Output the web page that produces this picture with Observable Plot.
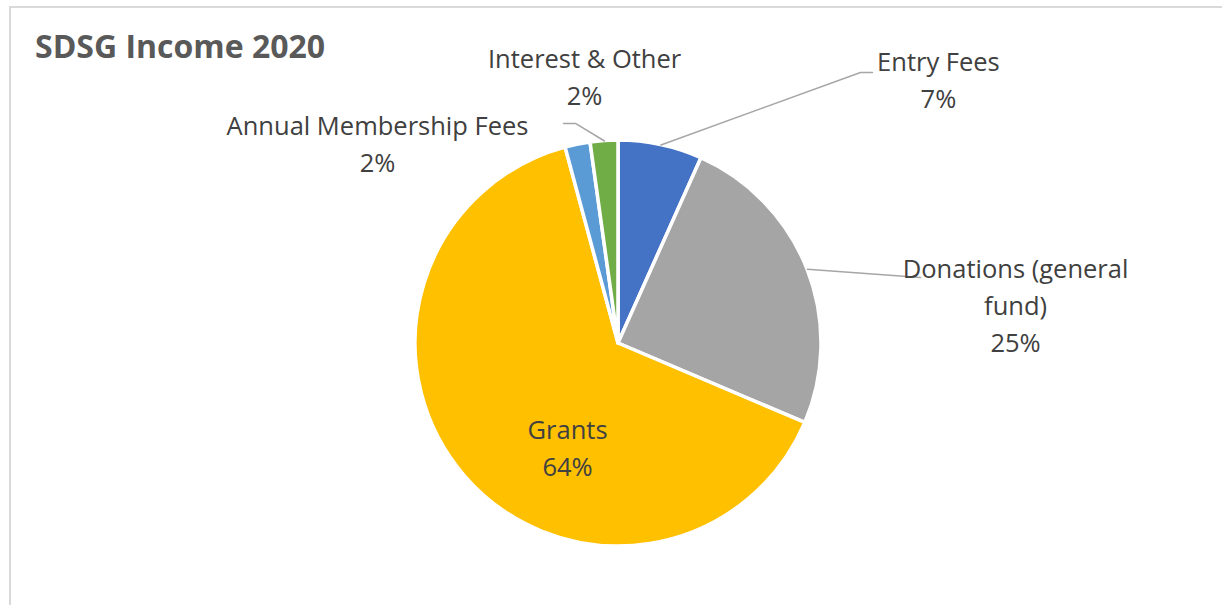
<!DOCTYPE html>
<html>
<head>
<meta charset="utf-8">
<script src="https://cdn.jsdelivr.net/npm/d3@7"></script>
<script src="https://cdn.jsdelivr.net/npm/@observablehq/plot@0.6"></script>
<style>
  html, body { margin: 0; padding: 0; background: #fff; overflow: hidden; }
  #wrap { position: relative; width: 1222px; height: 605px; overflow: hidden; }
  #frame { position: absolute; left: 9px; top: 6px; width: 1240px; height: 640px; border: 2px solid #d9d9d9; box-sizing: border-box; }
  #title { position: absolute; left: 35px; top: 30px; font: bold 32px/32px "Open Sans", sans-serif; color: #595959; white-space: nowrap; }
  #chart { position: absolute; left: 0; top: 0; }
</style>
</head>
<body>
<div id="wrap">
  <div id="frame"></div>
  <div id="chart"></div>
  <div id="title">SDSG Income 2020</div>
</div>
<script>
// ---- data ----
const categories = ["Entry Fees", "Donations (general fund)", "Grants", "Annual Membership Fees", "Interest & Other"];
const shares = [6.7, 24.7, 64.4, 2.0, 2.2];           // percent of income
const colors = ["#4472C4", "#A5A5A5", "#FFC000", "#5B9BD5", "#70AD47"];
const displayNames = ["Entry Fees", "Donations (general\nfund)", "Grants", "Annual Membership Fees", "Interest & Other"];

// ---- label layout (in pie-radius units, centre = 0,0) ----
const labelPos = [
  {u: 1.576, v: 1.288},
  {u: 1.956, v: 0.180},
  {u: -0.251, v: -0.522},
  {u: -1.187, v: 0.975},
  {u: -0.167, v: 1.305}
];
// leader line bends/ends after the slice anchor (radius units)
const leaderPath = [
  [{u: 1.192, v: 1.335}, {u: 1.251, v: 1.335}],
  [{u: 1.488, v: 0.325}],
  null,
  null,
  [{u: -0.212, v: 1.084}, {u: -0.271, v: 1.084}]
];

const data = categories.map((name, i) => ({name, value: shares[i]}));
const total = d3.sum(shares);
const arcs = d3.pie().sort(null).value(d => d.value)(data);

const labels = arcs.map((a, i) => ({
  name: a.data.name,
  text: displayNames[i] + "\n" + Math.round(a.data.value / total * 100) + "%",
  u: labelPos[i].u,
  v: labelPos[i].v
}));

const leaders = [];
arcs.forEach((a, i) => {
  if (!leaderPath[i]) return;
  const mid = (a.startAngle + a.endAngle) / 2;
  leaders.push({id: i, u: Math.sin(mid), v: Math.cos(mid)});
  leaderPath[i].forEach(p => leaders.push({id: i, u: p.u, v: p.v}));
});

const colorFallback = Plot.scale({color: {type: "ordinal", domain: categories, range: colors}});

function pieMark(index, scales, values, dimensions, context) {
  const cx = scales.x(0), cy = scales.y(0), r = scales.x(1) - scales.x(0);
  const color = scales.color ? scales.color : (n => colorFallback.apply(n));
  const arc = d3.arc().innerRadius(0).outerRadius(r);
  const g = d3.create("svg:g").attr("transform", `translate(${cx},${cy})`);
  g.selectAll("path").data(arcs).join("path")
    .attr("d", arc)
    .attr("fill", d => color(d.data.name))
    .attr("stroke", "#ffffff")
    .attr("stroke-width", 3.5)
    .attr("stroke-linejoin", "round");
  return g.node();
}

const chart = Plot.plot({
  width: 1222,
  height: 605,
  margin: 0,
  style: {background: "transparent", overflow: "visible"},
  x: {domain: [-1, 1], range: [415, 821], axis: null},
  y: {domain: [-1, 1], range: [546, 140], axis: null},
  color: {type: "ordinal", domain: categories, range: colors},
  marks: [
    Plot.dot(data, {x: () => 0, y: () => 0, fill: "name", r: 0}),
    pieMark,
    Plot.line(leaders, {x: "u", y: "v", z: "id", stroke: "#a6a6a6", strokeWidth: 1.5, curve: "linear"}),
    Plot.text(labels, {
      x: "u", y: "v", text: "text", dy: -4,
      fontFamily: "Open Sans", fontSize: 25.5, lineHeight: 1.45,
      fill: "#404040", textAnchor: "middle", lineAnchor: "middle"
    })
  ]
});
document.getElementById("chart").appendChild(chart);
</script>
</body>
</html>
